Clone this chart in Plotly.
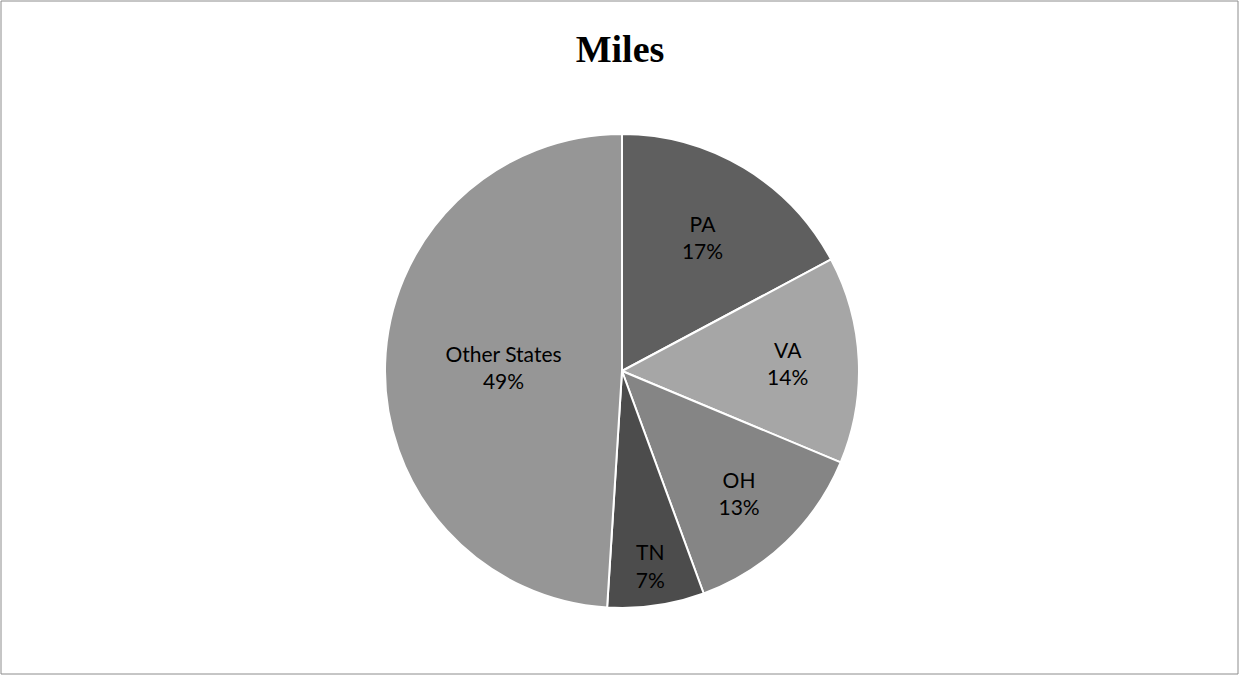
import plotly.graph_objects as go

states = ["PA", "VA", "OH", "TN", "Other States"]
shares = [17.2, 14.1, 13.1, 6.6, 49.0]
colors = ["#5f5f5f", "#a6a6a6", "#858585", "#4c4c4c", "#969696"]

W, H = 1240, 676
cx, cy, r = 622, 371, 237

fig = go.Figure(go.Pie(
    labels=states,
    values=shares,
    sort=False,
    direction="clockwise",
    rotation=0,
    marker=dict(colors=colors, line=dict(color="#ffffff", width=2)),
    texttemplate="%{label}<br>%{percent:.0%}",
    textposition="inside",
    insidetextorientation="horizontal",
    textfont=dict(family="Lato, Open Sans, sans-serif", size=21, color="#000000"),
    showlegend=False,
    hoverinfo="label+percent",
    domain=dict(x=[(cx - r) / W, (cx + r) / W], y=[(H - cy - r) / H, (H - cy + r) / H]),
))

fig.update_layout(
    width=W, height=H,
    margin=dict(l=0, r=0, t=0, b=0),
    paper_bgcolor="#ffffff",
    plot_bgcolor="#ffffff",
    title=dict(text="<b>Miles</b>", x=0.5, xanchor="center", y=1 - 49 / H, yanchor="middle",
               font=dict(family="Liberation Serif, Times New Roman, serif", size=38, color="#000000")),
    uniformtext=dict(minsize=21, mode="show"),
    shapes=[dict(type="rect", xref="paper", yref="paper", x0=1 / W, x1=1 - 2 / W, y0=2 / H, y1=1 - 1 / H,
                 line=dict(color="#8c8c8c", width=1))],
)

fig.write_html("out.html", config={"displayModeBar": False},
               post_script="document.body.style.margin='0';document.body.style.overflow='hidden';")
